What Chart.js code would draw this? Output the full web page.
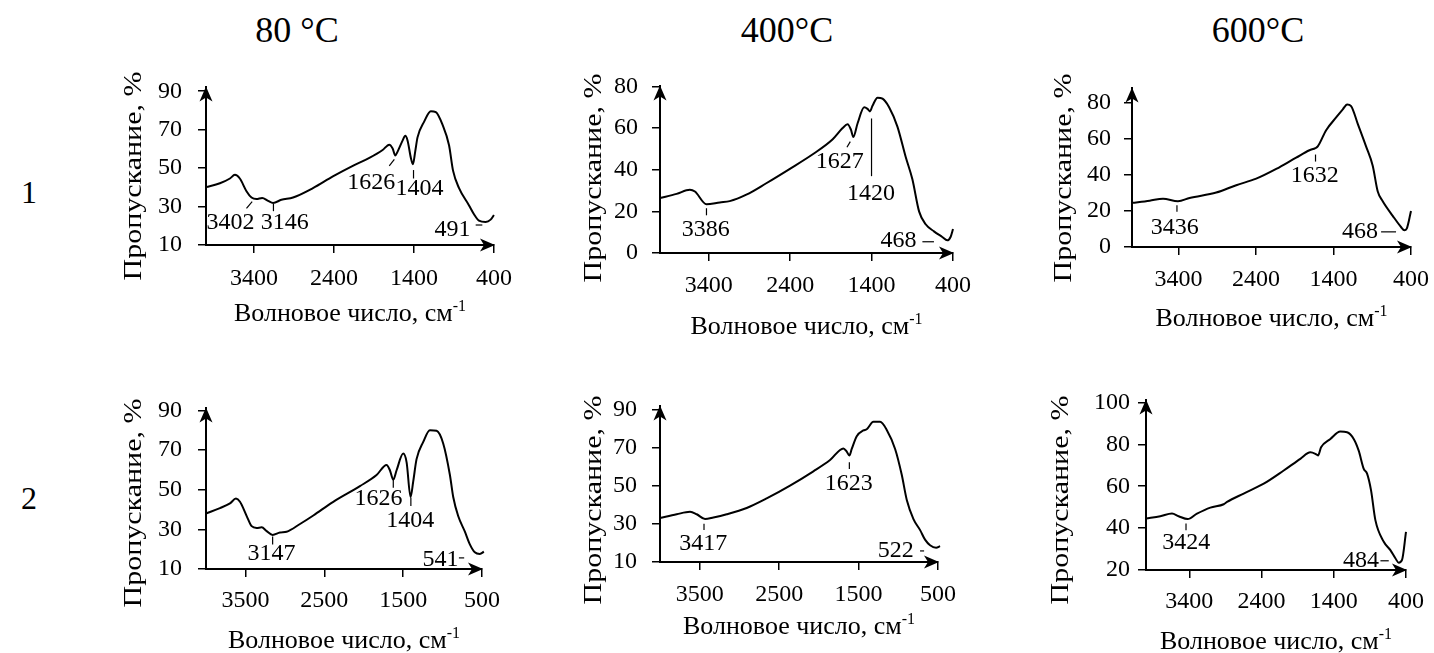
<!DOCTYPE html>
<html lang="ru">
<head>
<meta charset="utf-8">
<title>ИК-спектры образцов</title>
<script src="https://cdn.jsdelivr.net/npm/chart.js@4.4.1/dist/chart.umd.min.js"></script>
<style>
  html, body { margin: 0; padding: 0; background: #fff; }
  #page { position: relative; width: 1434px; height: 653px; overflow: hidden;
          font-family: "Liberation Serif", "Times New Roman", serif; color: #000; }
  .box { position: absolute; }
  .lbl { position: absolute; transform: translate(-50%, -50%); white-space: nowrap; line-height: 1; }
  .head { font-size: 36px; }
  .row { font-size: 32px; }
</style>
</head>
<body>
<div id="page">
  <div class="lbl head" style="left:297px;top:30px">80 °C</div>
  <div class="lbl head" style="left:787px;top:30px">400°C</div>
  <div class="lbl head" style="left:1258px;top:30px">600°C</div>
  <div class="lbl row" style="left:29px;top:192px">1</div>
  <div class="lbl row" style="left:29px;top:498px">2</div>
</div>
<script>
// wavenumber (cm-1) / transmittance (%)
// row 1 = sample 1, row 2 = sample 2
const s1_80_wave = [4000, 3826, 3701, 3639, 3577, 3494, 3431, 3369, 3298, 3224, 3161, 3058, 2912, 2663, 2414, 2165, 1958, 1792, 1709, 1667, 1634, 1605, 1543, 1509, 1480, 1439, 1414, 1385, 1356, 1273, 1190, 1127, 1044, 962, 912, 837, 712, 650, 588, 505, 442, 401];
const s1_80_trans = [40.1, 42.1, 44.6, 46.5, 44.6, 38.0, 34.7, 33.9, 34.5, 33.0, 31.9, 33.5, 34.7, 39.6, 45.7, 51.2, 55.3, 59.4, 62.2, 60.2, 56.6, 58.6, 64.3, 66.8, 64.3, 55.3, 52.0, 58.6, 66.0, 74.2, 79.6, 79.1, 72.6, 61.9, 48.7, 39.6, 30.6, 26.0, 22.7, 22.0, 23.2, 25.6];

const s1_400_wave = [4000, 3796, 3633, 3571, 3429, 3265, 3143, 2939, 2694, 2409, 2123, 1878, 1756, 1695, 1654, 1625, 1572, 1491, 1450, 1421, 1389, 1327, 1266, 1185, 1083, 981, 899, 817, 736, 634, 532, 471, 430, 400];
const s1_400_trans = [26.4, 28.4, 30.4, 29.5, 23.4, 24.3, 24.9, 28.0, 33.5, 40.3, 47.4, 54.6, 60.0, 61.8, 59.2, 55.7, 62.3, 70.0, 69.2, 68.0, 70.7, 74.6, 74.1, 70.0, 60.7, 46.1, 35.4, 20.0, 13.8, 10.4, 7.7, 6.1, 7.7, 11.5];

const s1_600_wave = [4000, 3772, 3600, 3407, 3257, 2913, 2655, 2397, 2139, 1882, 1710, 1633, 1603, 1495, 1366, 1280, 1224, 1173, 1087, 980, 894, 829, 765, 636, 529, 486, 455, 400];
const s1_600_trans = [24.5, 25.7, 26.8, 25.4, 27.2, 30.2, 34.3, 37.9, 43.3, 49.6, 53.7, 54.9, 55.8, 64.8, 71.9, 76.4, 79.1, 78.2, 68.3, 55.8, 45.1, 30.8, 25.4, 17.3, 11.1, 9.3, 10.2, 20.0];

const s2_80_wave = [4000, 3823, 3696, 3620, 3569, 3484, 3421, 3358, 3294, 3231, 3155, 3062, 2978, 2808, 2639, 2386, 2048, 1837, 1710, 1668, 1625, 1583, 1499, 1456, 1406, 1372, 1330, 1245, 1161, 1076, 992, 907, 865, 802, 717, 654, 591, 527, 476];
const s2_80_trans = [38.0, 40.7, 43.1, 45.5, 43.9, 36.7, 31.6, 30.7, 31.0, 29.1, 27.2, 28.4, 28.8, 32.7, 37.0, 43.9, 51.8, 57.4, 62.5, 59.8, 55.0, 59.8, 68.2, 63.8, 46.3, 54.2, 65.4, 74.1, 80.0, 79.7, 73.3, 57.4, 46.3, 36.7, 28.8, 22.4, 18.4, 17.6, 18.7];

const s2_400_wave = [4000, 3790, 3622, 3538, 3433, 3328, 3160, 2909, 2657, 2363, 2069, 1859, 1691, 1649, 1616, 1586, 1523, 1439, 1397, 1313, 1229, 1145, 1040, 957, 893, 809, 725, 663, 600, 524, 474];
const s2_400_trans = [33.0, 35.0, 36.3, 35.0, 32.5, 33.3, 35.0, 38.3, 43.3, 50.0, 57.5, 63.4, 69.5, 67.8, 65.8, 69.2, 75.9, 78.9, 79.5, 83.4, 83.4, 79.2, 69.2, 55.8, 42.5, 32.5, 26.7, 21.7, 18.8, 17.5, 18.3];

const s2_600_wave = [4000, 3802, 3640, 3548, 3423, 3294, 3109, 2924, 2878, 2648, 2370, 2093, 1863, 1724, 1655, 1618, 1576, 1447, 1309, 1216, 1124, 1055, 985, 939, 884, 824, 708, 616, 547, 501, 455, 400];
const s2_600_trans = [44.6, 45.7, 47.0, 45.7, 44.3, 46.9, 49.8, 51.4, 52.5, 56.5, 61.2, 67.5, 73.1, 76.2, 75.5, 74.7, 78.6, 82.6, 86.1, 85.8, 82.6, 77.0, 68.3, 66.0, 58.0, 43.8, 33.5, 29.5, 25.6, 23.5, 24.8, 38.2];

// tick labels
const waveTicksA = [3400, 2400, 1400, 400];
const waveTicksB = [3500, 2500, 1500, 500];
const transTicks10 = [10, 30, 50, 70, 90];
const transTicks0 = [0, 20, 40, 60, 80];
const transTicks20 = [20, 40, 60, 80, 100];

// band labels: text, where the text sits and its leader line (data units)
const notes_s1_80 = [
  { text: '3402', at: [3693, 21.4], line: [3494, 29.0, 3423, 32.6] },
  { text: '3146', at: [3016, 21.4], line: [3157, 31.4, 3157, 27.6] },
  { text: '1626', at: [1933, 42.4], line: [1709, 51.2, 1646, 54.5] },
  { text: '1404', at: [1331, 39.1], line: [1406, 49.0, 1406, 44.6] },
  { text: '491', at: [920, 17.9], line: [629, 20.4, 546, 20.4] }
];
const notes_s1_400 = [
  { text: '3386', at: [3437, 11.1], line: [3429, 21.5, 3429, 18.1] },
  { text: '1627', at: [1793, 43.8], line: [1703, 50.8, 1662, 53.5] },
  { text: '1420', at: [1409, 28.6], line: [1401, 64.6, 1401, 36.9] },
  { text: '468', at: [1070, 6.1], line: [776, 5.4, 634, 5.4] }
];
const notes_s1_600 = [
  { text: '3436', at: [3450, 10.9], line: [3420, 23.2, 3420, 19.6] },
  { text: '1632', at: [1641, 39.5], line: [1632, 51.3, 1632, 47.4] },
  { text: '468', at: [1057, 8.4], line: [786, 8.4, 593, 8.4] }
];
const notes_s2_80 = [
  { text: '3147', at: [3168, 17.5], line: [3155, 26.4, 3155, 22.4] },
  { text: '1626', at: [1811, 45.6], line: [1625, 55.3, 1625, 51.0] },
  { text: '1404', at: [1410, 34.6], line: [1402, 45.9, 1402, 41.8] },
  { text: '541', at: [1025, 14.8], line: [793, 15.6, 726, 15.6] }
];
const notes_s2_400 = [
  { text: '3417', at: [3454, 19.7], line: [3446, 30.0, 3446, 26.7] },
  { text: '1623', at: [1624, 51.2], line: [1616, 62.2, 1616, 58.7] },
  { text: '522', at: [1032, 15.9], line: [726, 15.8, 675, 15.8] }
];
const notes_s2_600 = [
  { text: '3424', at: [3442, 33.0], line: [3446, 42.2, 3446, 39.0] },
  { text: '484', at: [1022, 24.4], line: [754, 24.4, 639, 24.4] }
];

const FONT = '"Liberation Serif", "Times New Roman", serif';
const YW = 110, PT = 22, PR = 22, XH = 95;

// area = [left, top, right, bottom] of the axes on the page
const panels = [
  { id: 'a1', wave: s1_80_wave, trans: s1_80_trans, xTicks: waveTicksA, yTicks: transTicks10, xMin: 400, yMin: 10, yMax: 92,
    area: [206, 79, 494, 245], yPad: 16, xPad: 11, yTitle: [134, 176], xTitleY: 313, notes: notes_s1_80 },
  { id: 'a2', wave: s1_400_wave, trans: s1_400_trans, xTicks: waveTicksA, yTicks: transTicks0, xMin: 400, yMin: 0, yMax: 80,
    area: [660, 80, 953, 253], yPad: 14, xPad: 10, yTitle: [594, 178], xTitleY: 326, notes: notes_s1_400 },
  { id: 'a3', wave: s1_600_wave, trans: s1_600_trans, xTicks: waveTicksA, yTicks: transTicks0, xMin: 400, yMin: 0, yMax: 88,
    area: [1132, 83, 1411, 247], yPad: 13, xPad: 10, yTitle: [1064, 178], xTitleY: 318, notes: notes_s1_600 },
  { id: 'b1', wave: s2_80_wave, trans: s2_80_trans, xTicks: waveTicksB, yTicks: transTicks10, xMin: 500, yMin: 10, yMax: 91,
    area: [206, 400, 482, 569], yPad: 16, xPad: 9, yTitle: [134, 503], xTitleY: 640, notes: notes_s2_80 },
  { id: 'b2', wave: s2_400_wave, trans: s2_400_trans, xTicks: waveTicksB, yTicks: transTicks10, xMin: 500, yMin: 10, yMax: 91.5,
    area: [660, 399, 938, 562], yPad: 15, xPad: 10, yTitle: [594, 500], xTitleY: 626, notes: notes_s2_400 },
  { id: 'b3', wave: s2_600_wave, trans: s2_600_trans, xTicks: waveTicksA, yTicks: transTicks20, xMin: 400, yMin: 20, yMax: 101,
    area: [1146, 400, 1406, 570], yPad: 8, xPad: 9, yTitle: [1061, 500], xTitleY: 641, notes: notes_s2_600 }
];

function arrowUp(ctx, x, y) {
  ctx.beginPath();
  ctx.moveTo(x, y);
  ctx.lineTo(x + 6.5, y + 15);
  ctx.lineTo(x, y + 11);
  ctx.lineTo(x - 6.5, y + 15);
  ctx.closePath();
  ctx.fill();
}

function arrowRight(ctx, x, y) {
  ctx.beginPath();
  ctx.moveTo(x, y);
  ctx.lineTo(x - 15, y - 6.5);
  ctx.lineTo(x - 11, y);
  ctx.lineTo(x - 15, y + 6.5);
  ctx.closePath();
  ctx.fill();
}

// arrows, axis titles and band labels
function decor(p) {
  const ox = p.area[0] - YW, oy = p.area[1] - PT;
  return {
    id: 'decor_' + p.id,
    afterDraw(chart) {
      const { ctx, chartArea: a, scales: { x, y } } = chart;
      ctx.save();
      ctx.fillStyle = '#000';
      ctx.strokeStyle = '#000';

      arrowUp(ctx, a.left, a.top - 1);
      arrowRight(ctx, a.right + 1, a.bottom);

      // y title, drawn a bit stretched along its length like the original
      ctx.save();
      ctx.translate(p.yTitle[0] - ox, p.yTitle[1] - oy);
      ctx.rotate(-Math.PI / 2);
      ctx.scale(1.2, 1);
      ctx.font = '25px ' + FONT;
      ctx.textAlign = 'center';
      ctx.textBaseline = 'middle';
      ctx.fillText('Пропускание, %', 0, 0);
      ctx.restore();

      // x title with superscript
      const main = 'Волновое число, см', sup = '-1';
      ctx.font = '26px ' + FONT;
      const w1 = ctx.measureText(main).width;
      ctx.font = '16px ' + FONT;
      const w2 = ctx.measureText(sup).width;
      const base = p.xTitleY - oy + 8;
      const tx = (a.left + a.right) / 2 - (w1 + w2) / 2;
      ctx.textAlign = 'left';
      ctx.textBaseline = 'alphabetic';
      ctx.font = '26px ' + FONT;
      ctx.fillText(main, tx, base);
      ctx.font = '16px ' + FONT;
      ctx.fillText(sup, tx + w1, base - 10);

      // band labels
      ctx.font = '24px ' + FONT;
      ctx.textAlign = 'center';
      ctx.textBaseline = 'middle';
      ctx.lineWidth = 1.2;
      p.notes.forEach(n => {
        ctx.fillText(n.text, x.getPixelForValue(n.at[0]), y.getPixelForValue(n.at[1]));
        ctx.beginPath();
        ctx.moveTo(x.getPixelForValue(n.line[0]), y.getPixelForValue(n.line[1]));
        ctx.lineTo(x.getPixelForValue(n.line[2]), y.getPixelForValue(n.line[3]));
        ctx.stroke();
      });
      ctx.restore();
    }
  };
}

const page = document.getElementById('page');

function build() {
  panels.forEach(p => {
    const [l, t, r, b] = p.area;
    const left = l - YW, top = t - PT;
    const box = document.createElement('div');
    box.className = 'box';
    box.style.left = left + 'px';
    box.style.top = top + 'px';
    box.style.width = (r - left + PR) + 'px';
    box.style.height = (b - top + XH) + 'px';
    const cv = document.createElement('canvas');
    box.appendChild(cv);
    page.appendChild(box);

    new Chart(cv, {
      type: 'line',
      data: {
        datasets: [{
          data: p.wave.map((w, i) => ({ x: w, y: p.trans[i] })),
          borderColor: '#000',
          borderWidth: 2,
          pointRadius: 0,
          cubicInterpolationMode: 'monotone',
          fill: false,
          clip: false
        }]
      },
      options: {
        responsive: true,
        maintainAspectRatio: false,
        animation: false,
        events: [],
        layout: { padding: { left: 0, top: PT, right: PR, bottom: 0 } },
        plugins: { legend: { display: false }, tooltip: { enabled: false } },
        scales: {
          x: {
            type: 'linear', reverse: true, min: p.xMin, max: 4000,
            border: { display: true, color: '#000', width: 2 },
            grid: { drawOnChartArea: false, drawTicks: true, tickLength: 8, color: '#000', lineWidth: 1.5 },
            ticks: { color: '#000', font: { family: FONT, size: 24 }, padding: p.xPad, maxRotation: 0, autoSkip: false,
                     callback: v => String(v) },
            afterBuildTicks: s => { s.ticks = p.xTicks.map(v => ({ value: v })); },
            afterFit: s => { s.height = XH; s.paddingLeft = 0; s.paddingRight = 0; }
          },
          y: {
            min: p.yMin, max: p.yMax,
            border: { display: true, color: '#000', width: 2 },
            grid: { drawOnChartArea: false, drawTicks: true, tickLength: 8, color: '#000', lineWidth: 1.5 },
            ticks: { color: '#000', font: { family: FONT, size: 24 }, padding: p.yPad, callback: v => String(v) },
            afterBuildTicks: s => { s.ticks = p.yTicks.map(v => ({ value: v })); },
            afterFit: s => { s.width = YW; }
          }
        }
      },
      plugins: [decor(p)]
    });
  });
}

// make sure the serif face is ready before the canvases draw text
if (document.fonts && document.fonts.load) {
  Promise.all([
    document.fonts.load('24px "Liberation Serif"'),
    document.fonts.load('24px "Liberation Serif"', 'Пропускание')
  ]).then(build, build);
} else {
  build();
}
</script>
</body>
</html>
